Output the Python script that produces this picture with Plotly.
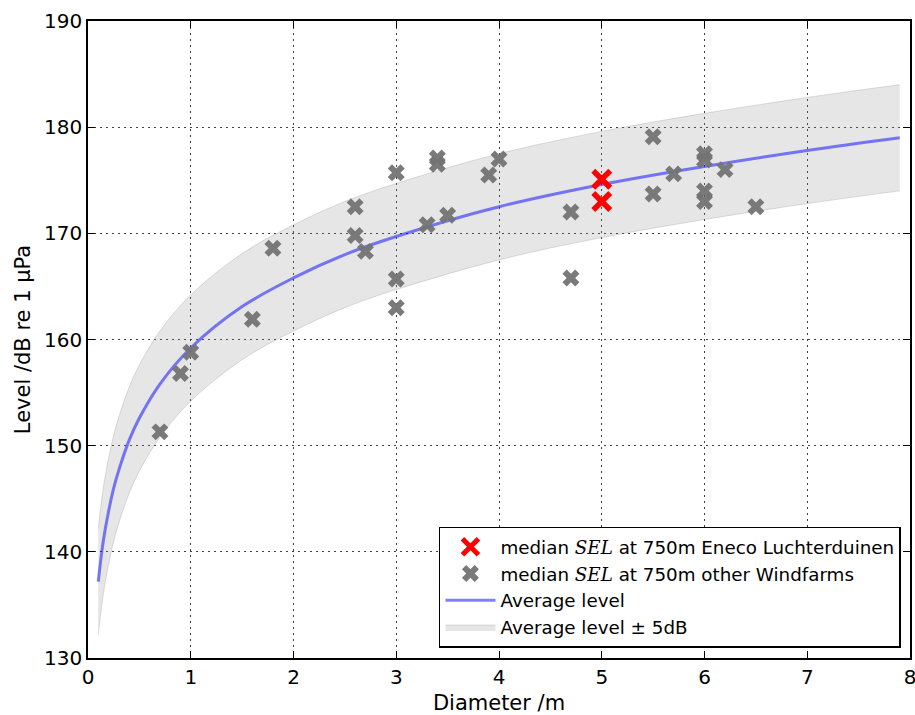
import plotly.graph_objects as go

# Gray markers: other windfarms
other_d = [0.7, 0.9, 1.0, 1.6, 1.8, 2.6, 2.6, 2.7, 3.0, 3.0, 3.0, 3.3, 3.4, 3.4, 3.5,
           3.9, 4.0, 4.7, 4.7, 5.5, 5.5, 5.7, 6.0, 6.0, 6.0, 6.0, 6.2, 6.5]
other_sel = [151.3, 156.8, 158.8, 161.9, 168.6, 172.5, 169.8, 168.3, 175.7, 165.7, 163.0,
             170.8, 177.1, 176.5, 171.7, 175.5, 177.0, 172.0, 165.8, 179.1, 173.7, 175.6,
             177.5, 176.9, 174.0, 173.0, 176.0, 172.5]

# Red markers: Eneco Luchterduinen
eneco_d = [5.0, 5.0]
eneco_sel = [175.1, 173.0]

# Average level curve
curve_d = [0.1, 0.12, 0.15, 0.2, 0.25, 0.3, 0.4, 0.5, 0.7, 1.0, 1.5, 2.0, 2.5, 3.0,
           4.0, 5.0, 6.0, 7.0, 7.9]
curve_lvl = [137.2, 138.9, 141.1, 143.8, 146.0, 147.7, 150.5, 152.6, 155.8, 159.2,
             163.1, 165.8, 168.0, 169.7, 172.5, 174.6, 176.3, 177.8, 179.0]
band_upper = [142.2, 143.9, 146.1, 148.8, 151.0, 152.7, 155.5, 157.6, 160.8, 164.2,
              168.1, 170.8, 173.0, 174.7, 177.5, 179.6, 181.3, 182.8, 184.0]
band_lower = [132.2, 133.9, 136.1, 138.8, 141.0, 142.7, 145.5, 147.6, 150.8, 154.2,
              158.1, 160.8, 163.0, 164.7, 167.5, 169.6, 171.3, 172.8, 174.0]

x_ticks = [0, 1, 2, 3, 4, 5, 6, 7, 8]
y_ticks = [130, 140, 150, 160, 170, 180, 190]

FONT = "DejaVu Sans"
sel = '<i><span style="font-family:\'DejaVu Serif\'">SEL</span></i>'

fig = go.Figure()

fig.add_trace(go.Scatter(x=curve_d, y=band_lower, mode="lines",
                         line=dict(color="rgba(128,128,128,0.25)", width=1, shape="spline"),
                         showlegend=False, hoverinfo="skip"))
fig.add_trace(go.Scatter(x=curve_d, y=band_upper, mode="lines", fill="tonexty",
                         fillcolor="rgba(128,128,128,0.2)",
                         line=dict(color="rgba(128,128,128,0.25)", width=1, shape="spline"),
                         name="Average level \u00b1 5dB", legendrank=4))

fig.add_trace(go.Scatter(x=curve_d, y=curve_lvl, mode="lines",
                         line=dict(color="rgba(0,0,255,0.5)", width=3, shape="spline"),
                         name="Average level", legendrank=3))

fig.add_trace(go.Scatter(x=other_d, y=other_sel, mode="markers",
                         marker=dict(symbol="x", size=15, color="rgba(115,115,115,0.95)", line=dict(width=0)),
                         name=f"median {sel} at 750m other Windfarms", legendrank=2))

fig.add_trace(go.Scatter(x=eneco_d, y=eneco_sel, mode="markers",
                         marker=dict(symbol="x-thin", size=17, color="red", line=dict(width=5.5, color="red")),
                         name=f"median {sel} at 750m Eneco Luchterduinen", legendrank=1))

axis_common = dict(
    showgrid=True, gridcolor="rgba(0,0,0,0.75)", griddash="2px,4px", gridwidth=1,
    showline=True, linecolor="black", linewidth=1.5, mirror="ticks",
    ticks="inside", ticklen=7, tickcolor="black",
    tickfont=dict(family=FONT, size=20, color="black"),
    ticklabeloverflow="allow", automargin=False,
    zeroline=False,
)

fig.update_xaxes(range=[0, 8], tickvals=x_ticks,
                 title=dict(text="Diameter /m", font=dict(family=FONT, size=21, color="black"), standoff=8),
                 **axis_common)
fig.update_yaxes(range=[130, 190], tickvals=y_ticks,
                 title=dict(text="Level /dB re 1 \u00b5Pa", font=dict(family=FONT, size=21, color="black"), standoff=8),
                 **axis_common)

fig.update_layout(
    width=915, height=715,
    margin=dict(l=88, r=5, t=21, b=57),
    plot_bgcolor="white", paper_bgcolor="white",
    font=dict(family=FONT, size=18, color="black"),
    legend=dict(x=0.989, y=0.016, xanchor="right", yanchor="bottom",
                bgcolor="white", bordercolor="black", borderwidth=1.5,
                font=dict(family=FONT, size=18.3, color="black"),
                traceorder="normal", tracegroupgap=0, itemwidth=50),
    showlegend=True,
)

fig.write_html("out.html", config={"displayModeBar": False},
               post_script="document.body.style.margin='0';window.dispatchEvent(new Event('resize'));")
